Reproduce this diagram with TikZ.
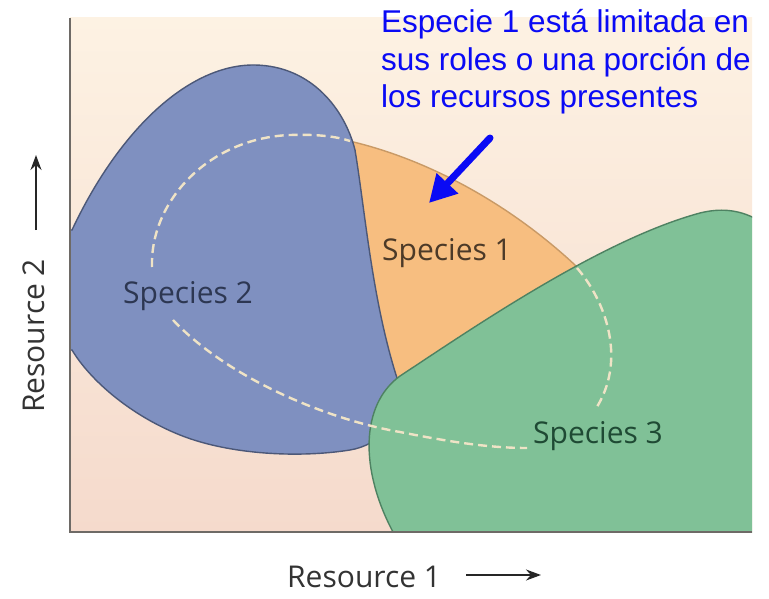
\documentclass[tikz,border=0pt]{standalone}
\usepackage{fontspec}
\setmainfont{Open Sans}
\newfontfamily\notefont{Liberation Sans}
\usetikzlibrary{arrows.meta,positioning}

\definecolor{bgtop}{HTML}{FDF2E3}
\definecolor{bgbottom}{HTML}{F5DACC}
\definecolor{bluefill}{HTML}{7F90C0}
\definecolor{blueedge}{HTML}{4C5878}
\definecolor{orangefill}{HTML}{F7BE80}
\definecolor{orangeedge}{HTML}{C99A66}
\definecolor{greenfill}{HTML}{80C197}
\definecolor{greenedge}{HTML}{4E8262}
\definecolor{trackcol}{HTML}{EFE3C6}
\definecolor{axisgray}{HTML}{6E6A66}
\definecolor{noteblue}{HTML}{0A0AF5}
\definecolor{sptwo}{HTML}{2D3752}
\definecolor{spone}{HTML}{4C3A28}
\definecolor{spthree}{HTML}{1F4A34}

\begin{document}
\begin{tikzpicture}[
  x=1pt, y=-1pt,
  niche/.style={line width=1.4pt},
  track/.style={draw=trackcol, line width=2.4pt, dash pattern=on 9pt off 5pt},
  splabel/.style={anchor=base west, inner sep=0pt, font=\fontsize{30}{36}\selectfont},
  axlabel/.style={anchor=base west, inner sep=0pt, text=black!80, font=\fontsize{30}{36}\selectfont},
  axarrow/.style={-{Stealth[length=15pt,width=11pt]}, line width=1.5pt, draw=black!85},
  callout/.style={-{Triangle[length=27pt,width=28pt]}, line width=7pt, line cap=round, draw=noteblue},
]
\useasboundingbox (0,0) rectangle (769,599);

%% plot area
\coordinate (top)    at (70,18);
\coordinate (origin) at (70,532);
\coordinate (right)  at (752,532);
\fill[top color=bgtop, bottom color=bgbottom] (top) rectangle (right);

\begin{scope}
\clip (top) rectangle (right);
%% Species 1 (under the others)
\filldraw[niche, fill=orangefill, draw=orangeedge]
  (330,137) .. controls (430,155) and (530,215) .. (600,290)
  -- (520,380) -- (390,395) -- (360,250) -- cycle;
%% Species 2
\filldraw[niche, fill=bluefill, draw=blueedge]
  (72,230) .. controls (120,128) and (190,64) .. (255,65)
  .. controls (312,66) and (345,110) .. (355,150)
  .. controls (365,210) and (372,300) .. (397,378)
  .. controls (405,420) and (380,445) .. (350,450)
  .. controls (300,458) and (230,455) .. (180,435)
  .. controls (130,415) and (90,380) .. (72,350)
  -- (40,350) -- (40,230) -- cycle;
%% Species 3
\filldraw[niche, fill=greenfill, draw=greenedge]
  (400,376) .. controls (470,330) and (600,240) .. (700,213)
  .. controls (740,203) and (770,220) .. (800,260) -- (800,600) -- (425,600)
  .. controls (410,570) and (400,550) .. (393,532)
  .. controls (360,470) and (360,405) .. (400,376) -- cycle;
%% dashed tracks
\draw[track] (152,267) .. controls (150,200) and (210,138) .. (290,135)
  .. controls (320,134) and (338,137) .. (350,141);
\draw[track] (173,320) .. controls (230,380) and (330,420) .. (400,432)
  .. controls (450,442) and (490,448) .. (527,448);
\draw[track] (577,268) .. controls (605,300) and (628,360) .. (595,410);
\end{scope}

%% axes
\draw[line width=1.6pt, draw=axisgray] (top) -- (origin) -- (right);

%% species labels
\node[splabel, text=sptwo]   (sp2) at (123,303) {Species 2};
\node[splabel, text=spone]   (sp1) at (382,260) {Species 1};
\node[splabel, text=spthree] (sp3) at (533,443) {Species 3};

%% axis labels
\node[axlabel] (res1) at (287,587) {Resource 1};
\node[axlabel, rotate=90] (res2) at (45,413) {Resource 2};
\coordinate (r1a) at (466,575);
\coordinate (r1b) at (541,575);
\coordinate (r2a) at (36,230);
\coordinate (r2b) at (36,155);
\draw[axarrow] (r1a) -- (r1b);
\draw[axarrow] (r2a) -- (r2b);

%% annotation
\node[anchor=base west, inner sep=0pt, align=left, text=noteblue,
      font=\notefont\fontsize{31.5}{37.5}\selectfont] (note) at (381,108)
  {Especie 1 está limitada en\\sus roles o una porción de\\los recursos presentes};
\coordinate (tail) at (490,138);
\coordinate (tip)  at (429,203);
\draw[callout] (tail) -- (tip);
\end{tikzpicture}
\end{document}
